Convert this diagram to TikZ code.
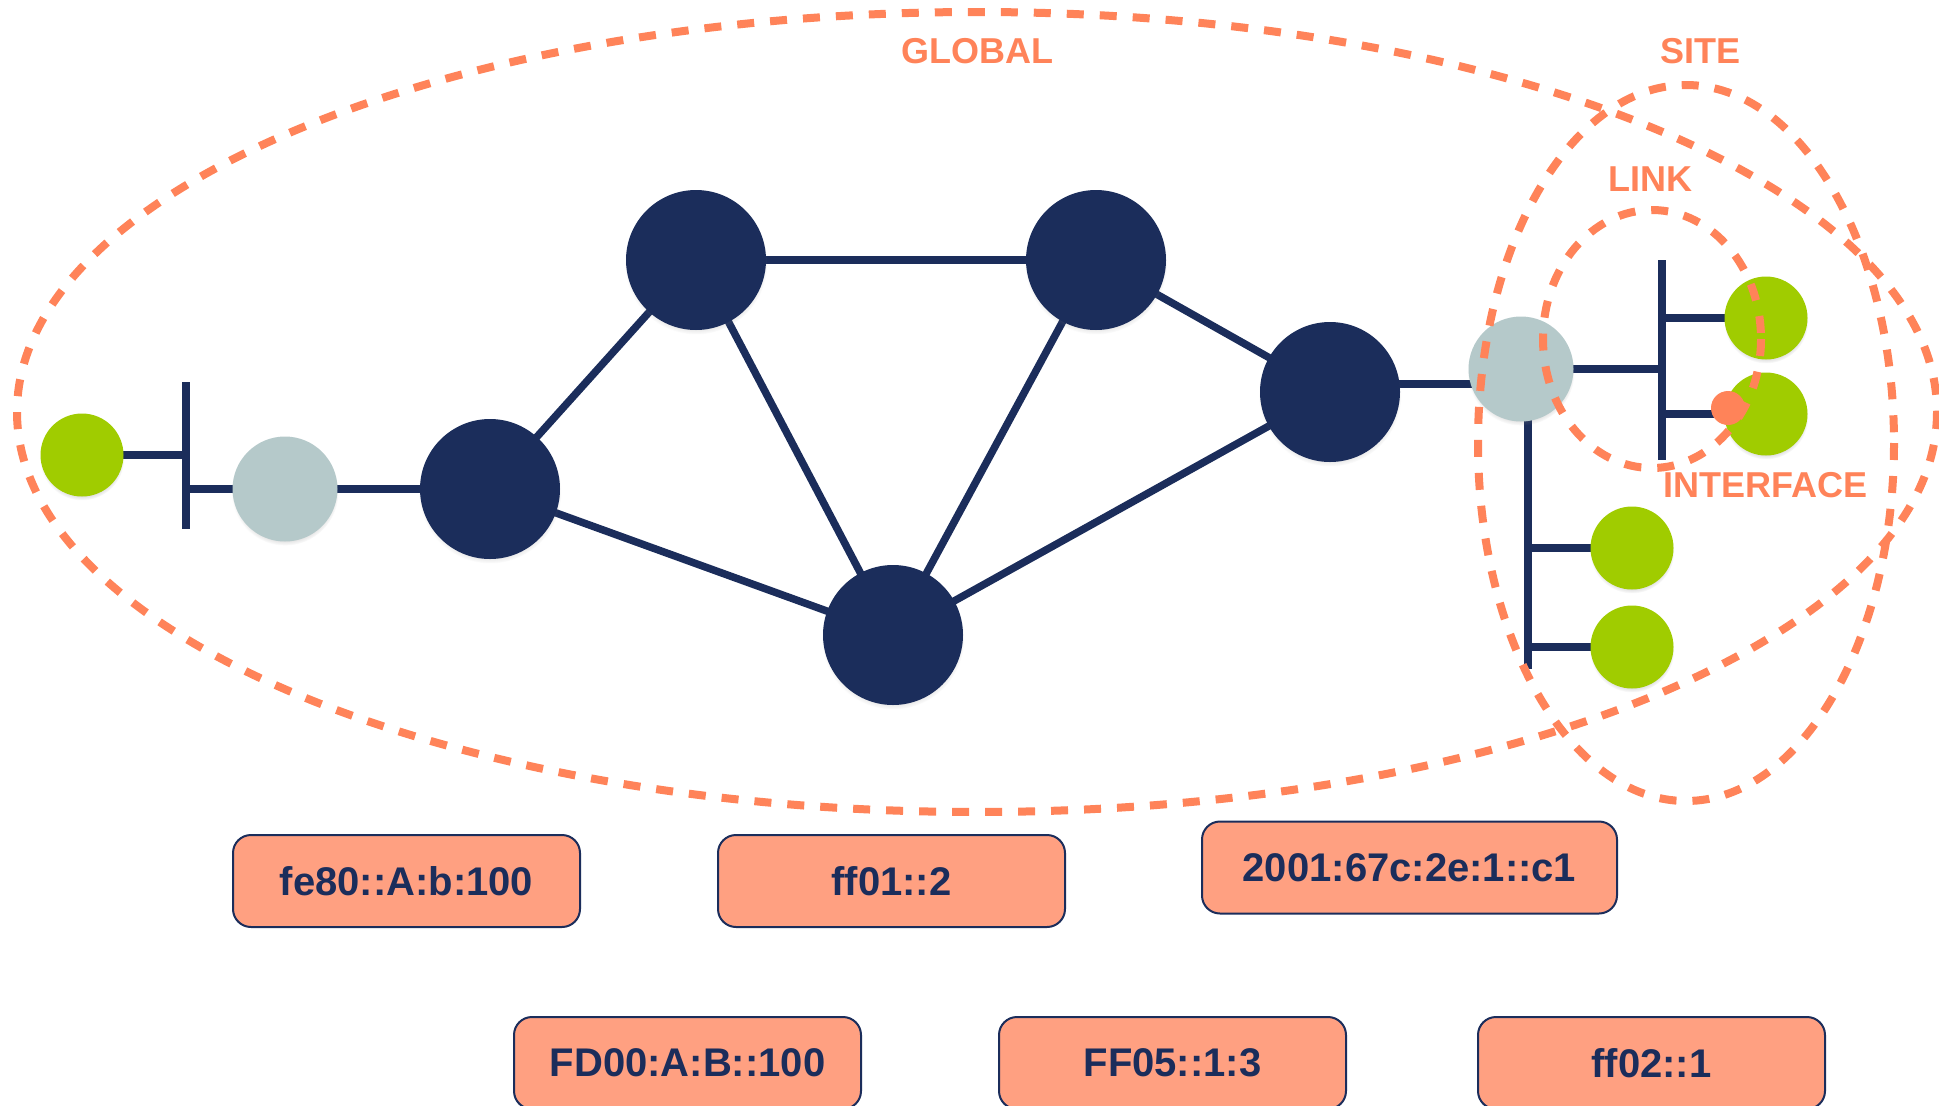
\documentclass[tikz,border=0pt]{standalone}
\usepackage{fontspec}
\setmainfont{Liberation Sans}
\usetikzlibrary{backgrounds,shadows}

\definecolor{navy}{RGB}{27,45,91}
\definecolor{leaf}{RGB}{160,204,0}
\definecolor{mist}{RGB}{181,201,202}
\definecolor{coral}{RGB}{255,131,89}
\definecolor{salmon}{RGB}{255,160,129}

\tikzset{
  router/.style={circle, fill=navy, minimum size=140pt, inner sep=0pt,
    circular drop shadow={shadow xshift=0pt, shadow yshift=-3pt, shadow scale=1.02, opacity=0.35}},
  gateway/.style={circle, fill=mist, minimum size=105pt, inner sep=0pt,
    circular drop shadow={shadow xshift=0pt, shadow yshift=-3pt, shadow scale=1.02, opacity=0.35}},
  host/.style={circle, fill=leaf, minimum size=83pt, inner sep=0pt,
    circular drop shadow={shadow xshift=0pt, shadow yshift=-3pt, shadow scale=1.02, opacity=0.35}},
  ifdot/.style={circle, fill=coral, minimum size=34pt, inner sep=0pt},
  wire/.style={draw=navy, line width=7.5pt},
  scopeline/.style={draw=coral, line width=8pt, dash pattern=on 17pt off 16pt},
  scopelabel/.style={text=coral, font=\fontsize{36}{38}\selectfont\bfseries, inner sep=0pt},
  addr/.style={draw=navy, line width=2pt, fill=salmon, rounded corners=18pt,
    minimum width=347pt, minimum height=92pt, inner sep=0pt, text=navy,
    font=\fontsize{40}{42}\selectfont\bfseries},
}

\begin{document}
\begin{tikzpicture}[x=1pt, y=-1pt]
\useasboundingbox (0,0) rectangle (1939,1106);

% core routers
\node[router] (A) at (490,489) {};
\node[router] (B) at (696,260) {};
\node[router] (C) at (1096,260) {};
\node[router] (D) at (1330,392) {};
\node[router] (E) at (893,635) {};

% left edge segment
\node[host] (hL) at (82,455) {};
\node[gateway] (gL) at (285,489) {};
\coordinate (lbarT) at (186,382);
\coordinate (lbarB) at (186,529);

% right edge site
\node[gateway] (gR) at (1521,369) {};
\node[host] (h1) at (1766,318) {};
\node[host] (h2) at (1766,414) {};
\node[host] (h3) at (1632,548) {};
\node[host] (h4) at (1632,647) {};
\coordinate (rbarT) at (1662,260);
\coordinate (rbarB) at (1662,460);
\coordinate (dbarB) at (1528,669);

% links between everything
\begin{scope}[on background layer]
  \draw[wire] (A.center) -- (B.center);
  \draw[wire] (A.center) -- (E.center);
  \draw[wire] (B.center) -- (C.center);
  \draw[wire] (B.center) -- (E.center);
  \draw[wire] (C.center) -- (E.center);
  \draw[wire] (C.center) -- (D.center);
  \draw[wire] (D.center) -- (E.center);
  \draw[wire] ([yshift=8pt]D.center) -- ([yshift=-15pt]gR.center);
  \draw[wire] (gL.center) -- (A.center);
  % left tee
  \draw[wire] (hL.center) -- (hL -| lbarT);
  \draw[wire] (lbarT) -- (lbarB);
  \draw[wire] (gL -| lbarT) -- (gL.center);
  % right tees
  \draw[wire] (gR.center) -- (gR -| rbarT);
  \draw[wire] (rbarT) -- (rbarB);
  \draw[wire] (rbarT |- h1) -- (h1.center);
  \draw[wire] (rbarT |- h2) -- (h2.center);
  \draw[wire] (dbarB |- gR) -- (dbarB);
  \draw[wire] (dbarB |- h3) -- (h3.center);
  \draw[wire] (dbarB |- h4) -- (h4.center);
\end{scope}

% interface marker
\node[ifdot] (ifc) at (1728,408) {};

% scope boundaries
\draw[scopeline] (977,412) ellipse [x radius=960, y radius=400];
\draw[scopeline] (1686,443) ellipse [x radius=208, y radius=358];
\draw[scopeline] (1652,339) ellipse [x radius=109, y radius=129];

% scope names
\node[scopelabel] (lglobal) at (977,51) {GLOBAL};
\node[scopelabel] (lsite) at (1700,51) {SITE};
\node[scopelabel] (llink) at (1650,179) {LINK};
\node[scopelabel] (liface) at (1765,485) {INTERFACE};

% example addresses
\node[addr] (a1) at (406.5,881) {fe80::A:b:100};
\node[addr] (a2) at (891.5,881) {ff01::2};
\node[addr, minimum width=415pt] (a3) at (1409.5,867.5) {2001:67c:2e:1::c1};
\node[addr] (a4) at (687.5,1063) {FD00:A:B::100};
\node[addr] (a5) at (1172.5,1063) {FF05::1:3};
\node[addr] (a6) at (1651.5,1063) {ff02::1};
\end{tikzpicture}
\end{document}
